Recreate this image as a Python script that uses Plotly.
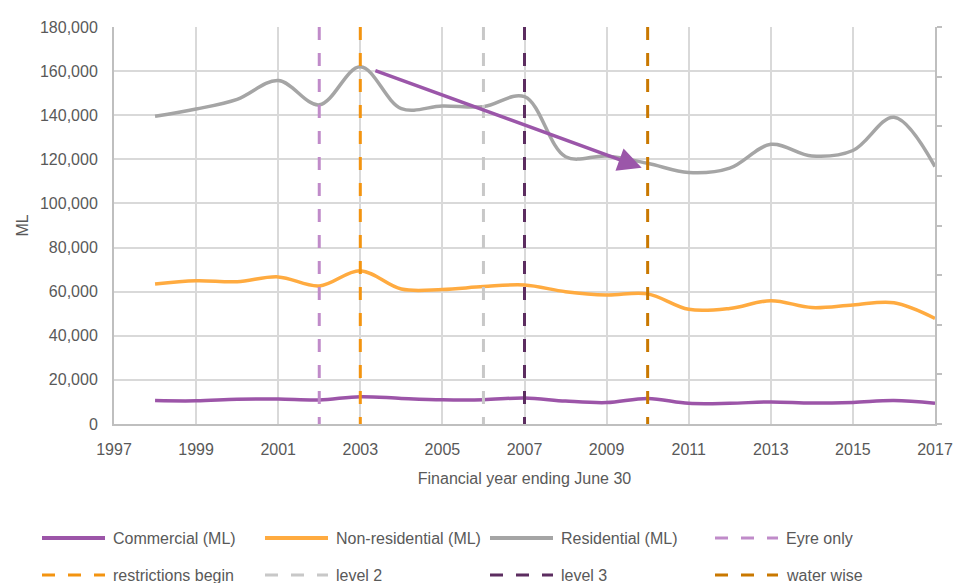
import plotly.graph_objects as go

# ---- data -------------------------------------------------------------
years = list(range(1998, 2018))

commercial = [10600, 10500, 11200, 11300, 10900, 12400, 11600, 11000, 11000, 11800,
              10400, 9700, 11600, 9400, 9400, 10000, 9500, 9800, 10600, 9400]
non_residential = [63500, 64900, 64500, 66700, 62600, 69500, 61200, 61000, 62300, 63000,
                   60000, 58500, 59000, 52000, 52400, 55900, 52800, 54000, 55000, 47900]
residential = [139500, 142800, 147200, 155700, 144700, 162000, 143000, 144200, 143900, 148400,
               121200, 121500, 118200, 114000, 116000, 126800, 121500, 124000, 139100, 116700]

series_names = ["Commercial (ML)", "Non-residential (ML)", "Residential (ML)"]
series_values = [commercial, non_residential, residential]
series_colors = ["#9C55A8", "#FFAB40", "#A5A5A5"]

event_names = ["Eyre only", "restrictions begin", "level 2", "level 3", "water wise"]
event_years = [2002, 2003, 2006, 2007, 2010]
event_colors = ["#C08BC9", "#F39410", "#C8C8C8", "#5C2D60", "#C97800"]

# trend arrow (tail -> head) in data units
arrow_tail = (2003.33, 160500)
arrow_head = (2009.855, 116200)

x_ticks = list(range(1997, 2018, 2))

# ---- layout geometry (pixels) -----------------------------------------
W, H = 955, 583
L, R, T, B = 114, 935, 27, 424
TEXT = "#595959"
FONT = "Liberation Sans, Arial, sans-serif"
DASH = "13px,13px"


def px_x(px):
    return (px - L) / (R - L)


def px_y(py):
    return (B - py) / (B - T)


fig = go.Figure()

for name, vals, col in zip(series_names, series_values, series_colors):
    fig.add_trace(go.Scatter(
        x=years, y=vals, name=name, mode="lines",
        line=dict(color=col, width=3.5, shape="spline"),
        showlegend=False,
    ))

for name, yr, col in zip(event_names, event_years, event_colors):
    fig.add_trace(go.Scatter(
        x=[yr, yr], y=[8, 0], name=name, mode="lines", yaxis="y2",
        line=dict(color=col, width=3, dash=DASH),
        showlegend=False,
    ))

fig.add_annotation(
    x=arrow_head[0], y=arrow_head[1], ax=arrow_tail[0], ay=arrow_tail[1],
    xref="x", yref="y", axref="x", ayref="y",
    showarrow=True, arrowhead=2, arrowsize=1.35, arrowwidth=3.5,
    arrowcolor="#9B56A9", text="",
)

# ---- legend: 4 columns x 2 rows --------------------------------------
legend_names = series_names + event_names
legend_colors = series_colors + event_colors
legend_dash = ["solid"] * 3 + [DASH] * 5
col_x = [42, 265, 490, 715]
row_y = [538, 575]
for i, (name, col, dash) in enumerate(zip(legend_names, legend_colors, legend_dash)):
    cx = col_x[i % 4]
    ry = row_y[i // 4]
    fig.add_shape(type="line", xref="paper", yref="paper",
                  x0=px_x(cx), x1=px_x(cx + 63), y0=px_y(ry), y1=px_y(ry),
                  line=dict(color=col, width=4 if dash == "solid" else 3, dash=dash))
    fig.add_annotation(xref="paper", yref="paper", x=px_x(cx + 69), y=px_y(ry),
                       xanchor="left", yanchor="middle", showarrow=False, text=name,
                       font=dict(family=FONT, size=16, color=TEXT))

fig.update_layout(
    width=W, height=H,
    margin=dict(l=L, r=W - R, t=T, b=H - B, pad=0, autoexpand=False),
    paper_bgcolor="white", plot_bgcolor="white",
    font=dict(family=FONT, size=16, color=TEXT),
    showlegend=False,
    xaxis=dict(
        range=[1997, 2017], tickvals=x_ticks, showgrid=True, gridcolor="#D9D9D9", gridwidth=1.5,
        showline=True, linecolor="#BFBFBF", linewidth=2, zeroline=False, ticks="",
        ticklabelstandoff=10, automargin=False,
        title=dict(text="Financial year ending June 30", standoff=16,
                   font=dict(family=FONT, size=16, color=TEXT)),
    ),
    yaxis=dict(
        range=[0, 180000], dtick=20000, tickformat=",", showgrid=True, gridcolor="#D9D9D9",
        gridwidth=1.5, showline=True, linecolor="#BFBFBF", linewidth=2, zeroline=False,
        ticks="", ticklabelstandoff=11, automargin=False,
        title=dict(text="ML", standoff=7, font=dict(family=FONT, size=16, color=TEXT)),
    ),
    yaxis2=dict(
        overlaying="y", side="right", range=[0, 8], dtick=1, showgrid=False,
        showline=True, linecolor="#BFBFBF", linewidth=2, zeroline=False, automargin=False,
        ticks="outside", ticklen=5, tickwidth=1.5, tickcolor="#BFBFBF", showticklabels=False,
    ),
)

fig.write_html("out.html")
